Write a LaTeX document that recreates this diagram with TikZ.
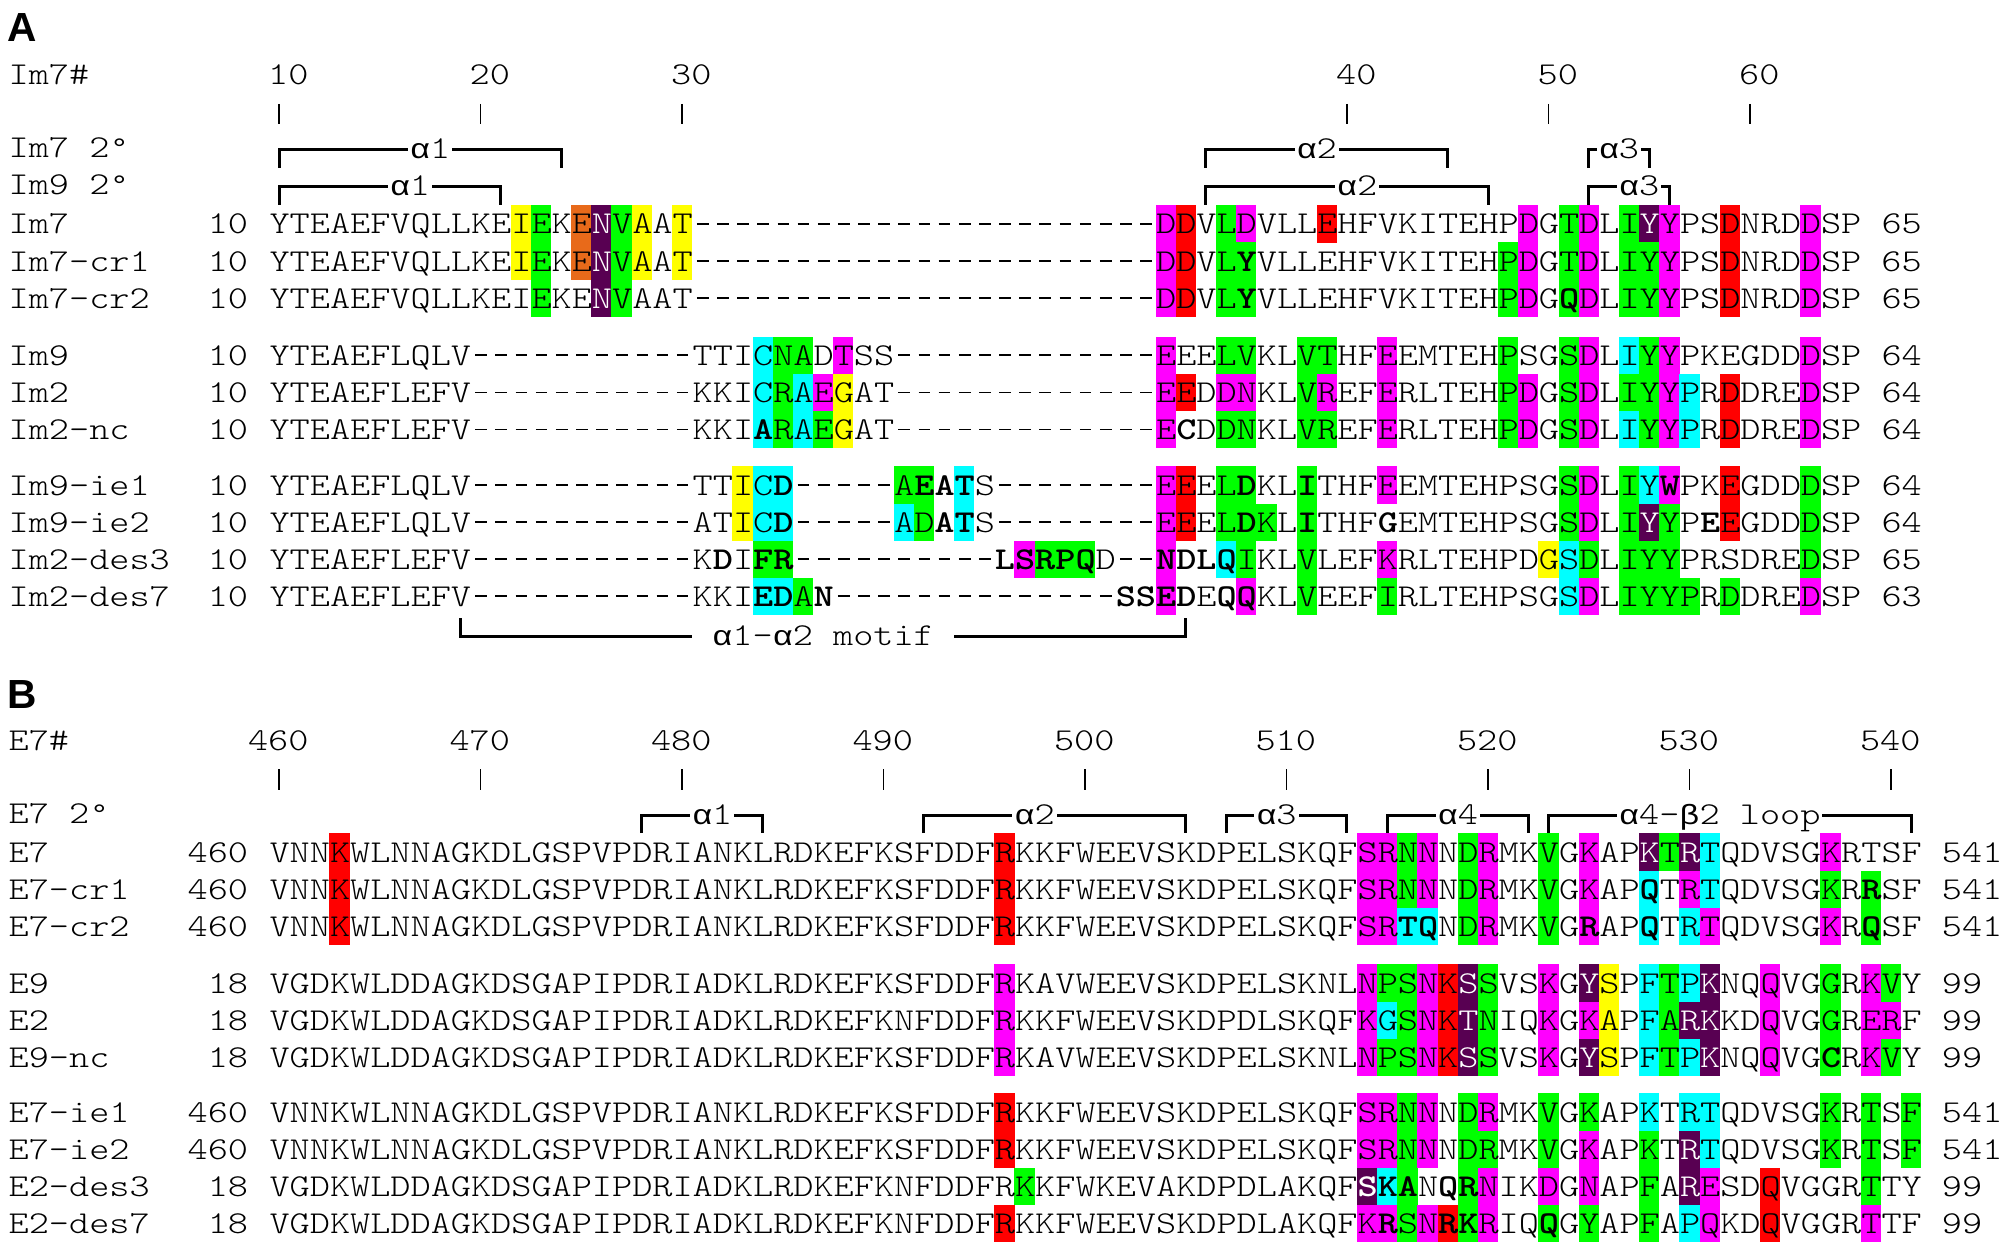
\documentclass[tikz,border=0pt]{standalone}
\usepackage{fontspec}
\usepackage{graphicx}
\setsansfont{Liberation Sans}
\newfontfamily\seqfont{lmmonolt10-regular}[Extension=.otf, BoldFont=lmmonolt10-bold, WordSpace={1,0,0}]
\newfontfamily\grk{Liberation Mono}

\definecolor{hlmag}{RGB}{255,0,255}
\definecolor{hlgrn}{RGB}{0,255,0}
\definecolor{hlcya}{RGB}{0,255,255}
\definecolor{hlyel}{RGB}{255,255,0}
\definecolor{hlred}{RGB}{255,0,0}
\definecolor{hlora}{RGB}{232,106,26}
\definecolor{hlpur}{RGB}{88,0,82}

\newcommand\bd[1]{\textbf{#1}}
\newcommand\wt[1]{\textcolor{white}{#1}}
\newcommand\dsh{\makebox[6.045pt]{\rule[3.4pt]{3.5pt}{0.6pt}}}
\newcommand\gap[1]{\foreach \g in {1,...,#1}{\dsh}}
\newcommand\seqtxt[1]{\scalebox{1}[0.83]{#1}}
\newcommand\al{{\grk\fontsize{10.075}{12}\selectfont α}}
\newcommand\be{{\grk\fontsize{10.075}{12}\selectfont β}}
\newcommand\dg{{\grk\fontsize{10.075}{12}\selectfont °}}

\begin{document}
\begin{tikzpicture}[x=0.3pt, y=-0.3pt,
  seq/.style={font=\seqfont\fontsize{11.514}{13}\selectfont, inner sep=0pt},
  brk/.style={line width=0.9pt},
  brklab/.style={seq, fill=white, inner xsep=0.6pt, inner ysep=1pt, anchor=base},
  panel/.style={font=\sffamily\bfseries\fontsize{12.2}{14}\selectfont, inner sep=0pt, anchor=base west}]

\fill[white] (0,0) rectangle (2007,1252);

% ---------------- panel A: immunity proteins
\node[panel] (pA) at (7,42) {A};
\node[seq, anchor=base west] (im7pos) at (8,85) {\seqtxt{Im7\#}};
\foreach \c/\t in {0/10,10/20,20/30,53/40,63/50,73/60} {
  \node[seq, anchor=base east] (tA\t) at ({309.2+20.15*\c},85) {\seqtxt{\t}};
  \draw[thin] ({279+20.15*\c},104) -- ({279+20.15*\c},124);
}
\node[seq, anchor=base west] (im7ss) at (8,158) {\seqtxt{Im7 2\dg}};
\node[seq, anchor=base west] (im9ss) at (8,195) {\seqtxt{Im9 2\dg}};
% secondary structure
\foreach \l/\r/\m/\y/\t/\n in {0/14/7.5/150/\al1/a7h1, 46/58/51.5/150/\al2/a7h2, 65/68/66.5/150/\al3/a7h3,
    0/11/6.5/187/\al1/a9h1, 46/60/53.5/187/\al2/a9h2, 65/69/67.5/187/\al3/a9h3} {
  \draw[brk] ({279+20.15*\l},\y+18) |- ({279+20.15*\r},\y) -- ++(0,18);
  \node[brklab] (\n) at ({279+20.15*\m},\y+9) {\seqtxt{\t}};
}
% aligned sequences, highlights first
\foreach \y/\nm/\st/\sq/\hls in {
  224/Im7/10/{YTEAEFVQLLKEIEKE\wt{N}VAAT\gap{23}DDVLDVLLEHFVKITEHPDGTDLI\wt{Y}YPSDNRDDSP 65}/{12/hlyel,13/hlgrn,15/hlora,16/hlpur,17/hlgrn,18/hlyel,20/hlyel,44/hlmag,45/hlred,47/hlgrn,48/hlmag,52/hlred,62/hlmag,64/hlgrn,65/hlmag,67/hlgrn,68/hlpur,69/hlmag,72/hlred,76/hlmag},
  261.1/Im7-cr1/10/{YTEAEFVQLLKEIEKE\wt{N}VAAT\gap{23}DDVL\bd{Y}VLLEHFVKITEHPDGTDLIYYPSDNRDDSP 65}/{12/hlyel,13/hlgrn,15/hlora,16/hlpur,17/hlgrn,18/hlyel,20/hlyel,44/hlmag,45/hlred,47/hlgrn,48/hlgrn,61/hlgrn,62/hlmag,64/hlgrn,65/hlmag,67/hlgrn,68/hlgrn,69/hlmag,72/hlred,76/hlmag},
  298.2/Im7-cr2/10/{YTEAEFVQLLKEIEKE\wt{N}VAAT\gap{23}DDVL\bd{Y}VLLEHFVKITEHPDG\bd{Q}DLIYYPSDNRDDSP 65}/{13/hlgrn,16/hlpur,17/hlgrn,44/hlmag,45/hlred,47/hlgrn,48/hlgrn,61/hlgrn,62/hlmag,64/hlgrn,65/hlmag,67/hlgrn,68/hlgrn,69/hlmag,72/hlred,76/hlmag},
  355.5/Im9/10/{YTEAEFLQLV\gap{11}TTICNADTSS\gap{13}EEELVKLVTHFEEMTEHPSGSDLIYYPKEGDDDSP 64}/{24/hlcya,25/hlgrn,26/hlgrn,28/hlmag,44/hlmag,47/hlgrn,48/hlgrn,51/hlgrn,52/hlgrn,55/hlmag,61/hlgrn,64/hlgrn,65/hlmag,67/hlcya,68/hlgrn,69/hlmag,76/hlmag},
  392.6/Im2/10/{YTEAEFLEFV\gap{11}KKICRAEGAT\gap{13}EEDDNKLVREFERLTEHPDGSDLIYYPRDDREDSP 64}/{24/hlcya,25/hlgrn,26/hlcya,27/hlmag,28/hlyel,44/hlmag,45/hlred,47/hlmag,48/hlmag,51/hlgrn,52/hlmag,55/hlmag,61/hlgrn,62/hlmag,64/hlgrn,65/hlmag,67/hlgrn,68/hlgrn,69/hlmag,70/hlcya,72/hlred,76/hlmag},
  429.7/Im2-nc/10/{YTEAEFLEFV\gap{11}KKI\bd{A}RAEGAT\gap{13}E\bd{C}DDNKLVREFERLTEHPDGSDLIYYPRDDREDSP 64}/{24/hlcya,25/hlgrn,26/hlcya,27/hlgrn,28/hlyel,44/hlmag,47/hlgrn,48/hlgrn,51/hlgrn,52/hlgrn,55/hlmag,61/hlgrn,62/hlmag,64/hlgrn,65/hlmag,67/hlcya,68/hlgrn,69/hlmag,70/hlcya,72/hlred,76/hlmag},
  485/Im9-ie1/10/{YTEAEFLQLV\gap{11}TTIC\bd{D}\gap{5}A\bd{EAT}S\gap{8}EEEL\bd{D}KL\bd{I}THFEEMTEHPSGSDLIY\bd{W}PKEGDDDSP 64}/{23/hlyel,24/hlcya,25/hlcya,31/hlgrn,32/hlgrn,34/hlcya,44/hlmag,45/hlred,47/hlgrn,48/hlgrn,51/hlgrn,55/hlmag,64/hlgrn,65/hlmag,67/hlgrn,68/hlcya,69/hlmag,72/hlred,76/hlgrn},
  522.1/Im9-ie2/10/{YTEAEFLQLV\gap{11}ATIC\bd{D}\gap{5}AD\bd{AT}S\gap{8}EEEL\bd{D}KL\bd{I}THF\bd{G}EMTEHPSGSDLI\wt{Y}YP\bd{E}EGDDDSP 64}/{23/hlyel,24/hlcya,25/hlcya,31/hlcya,32/hlgrn,34/hlcya,44/hlmag,45/hlred,47/hlgrn,48/hlgrn,49/hlgrn,51/hlgrn,64/hlgrn,65/hlmag,67/hlgrn,68/hlpur,69/hlgrn,72/hlred,76/hlgrn},
  559.2/Im2-des3/10/{YTEAEFLEFV\gap{11}K\bd{D}I\bd{FR}\gap{10}\bd{LSRPQ}D\gap{2}\bd{NDLQ}IKLVLEFKRLTEHPDGSDLIYYPRSDREDSP 65}/{24/hlgrn,25/hlgrn,37/hlmag,38/hlgrn,39/hlgrn,40/hlgrn,44/hlmag,47/hlcya,48/hlgrn,51/hlgrn,55/hlmag,63/hlyel,64/hlcya,65/hlgrn,67/hlgrn,68/hlgrn,69/hlgrn,76/hlgrn},
  596.3/Im2-des7/10/{YTEAEFLEFV\gap{11}KKI\bd{ED}A\bd{N}\gap{14}\bd{SSED}E\bd{QQ}KLVEEFIRLTEHPSGSDLIYYPRDDREDSP 63}/{24/hlcya,25/hlcya,26/hlgrn,44/hlmag,48/hlmag,51/hlgrn,55/hlgrn,64/hlcya,65/hlmag,67/hlgrn,68/hlgrn,69/hlgrn,70/hlgrn,72/hlgrn,76/hlmag}} {
  \foreach \c/\k in \hls
    \fill[\k] ({268.9+20.15*\c},\y-18.6) rectangle ++(20.25,37.3);
  \node[seq, anchor=base west] (\nm) at (8,\y+10) {\seqtxt{\nm}};
  \node[seq, anchor=base east] (\nm-st) at (248.75,\y+10) {\seqtxt{\st}};
  \node[seq, anchor=base west] (\nm-seq) at (268.9,\y+10) {\seqtxt{\sq}};
}
% alpha1-alpha2 motif
\draw[brk] (460.35,618) |- (1185.75,636) -- ++(0,-18);
\node[brklab, inner xsep=6pt] (motif) at (823.05,645) {\seqtxt{\al1-\al2 motif}};

% ---------------- panel B: DNase domains
\node[panel] (pB) at (7,708) {B};
\node[seq, anchor=base west] (e7pos) at (8,750) {\seqtxt{E7\#}};
\foreach \c in {0,10,...,80} {
  \pgfmathtruncatemacro\t{460+\c}
  \node[seq, anchor=base east] (tB\t) at ({309.2+20.15*\c},750) {\seqtxt{\t}};
  \draw[thin] ({279+20.15*\c},769) -- ({279+20.15*\c},790);
}
\node[seq, anchor=base west] (e7ss) at (8,823) {\seqtxt{E7 2\dg}};
\foreach \l/\r/\m/\t/\n in {18/24/21.5/\al1/b7h1, 32/45/37.5/\al2/b7h2, 47/53/49.5/\al3/b7h3,
    55/62/58.5/\al4/b7h4, 63/81/71.5/\al4-\be2 loop/b7h5} {
  \draw[brk] ({279+20.15*\l},833) |- ({279+20.15*\r},815) -- ++(0,18);
  \node[brklab] (\n) at ({279+20.15*\m},824) {\seqtxt{\t}};
}
\foreach \y/\nm/\st/\sq/\hls in {
  852/E7/460/{VNNKWLNNAGKDLGSPVPDRIANKLRDKEFKSFDDFRKKFWEEVSKDPELSKQFSRNNNDRMKVGKAP\wt{K}T\wt{R}TQDVSGKRTSF 541}/{3/hlred,36/hlred,54/hlmag,55/hlmag,56/hlgrn,57/hlmag,59/hlgrn,60/hlmag,63/hlgrn,65/hlmag,68/hlpur,69/hlgrn,70/hlpur,71/hlcya,77/hlmag},
  889.2/E7-cr1/460/{VNNKWLNNAGKDLGSPVPDRIANKLRDKEFKSFDDFRKKFWEEVSKDPELSKQFSRNNNDRMKVGKAP\bd{Q}TRTQDVSGKR\bd{R}SF 541}/{3/hlred,36/hlred,54/hlmag,55/hlmag,56/hlgrn,57/hlmag,59/hlgrn,60/hlmag,63/hlgrn,65/hlmag,68/hlcya,70/hlmag,71/hlcya,77/hlgrn,79/hlgrn},
  926.4/E7-cr2/460/{VNNKWLNNAGKDLGSPVPDRIANKLRDKEFKSFDDFRKKFWEEVSKDPELSKQFSR\bd{TQ}NDRMKVG\bd{R}AP\bd{Q}TRTQDVSGKR\bd{Q}SF 541}/{3/hlred,36/hlred,54/hlmag,55/hlmag,56/hlcya,57/hlcya,59/hlgrn,60/hlmag,63/hlgrn,65/hlmag,68/hlcya,70/hlcya,71/hlmag,77/hlmag,79/hlgrn},
  983/E9/18/{VGDKWLDDAGKDSGAPIPDRIADKLRDKEFKSFDDFRKAVWEEVSKDPELSKNLNPSNK\wt{S}SVSKG\wt{Y}SPFTP\wt{K}NQQVGGRKVY 99}/{36/hlmag,54/hlmag,55/hlgrn,56/hlgrn,57/hlmag,58/hlred,59/hlpur,60/hlgrn,63/hlmag,65/hlpur,66/hlyel,68/hlcya,69/hlgrn,70/hlcya,71/hlpur,74/hlmag,77/hlgrn,79/hlmag,80/hlgrn},
  1020.2/E2/18/{VGDKWLDDAGKDSGAPIPDRIADKLRDKEFKNFDDFRKKFWEEVSKDPDLSKQFKGSNK\wt{T}NIQKGKAPFA\wt{RK}KDQVGGRERF 99}/{36/hlmag,54/hlmag,55/hlcya,56/hlgrn,57/hlmag,58/hlred,59/hlpur,60/hlgrn,63/hlmag,65/hlmag,66/hlyel,68/hlcya,69/hlgrn,70/hlpur,71/hlpur,74/hlmag,77/hlgrn,79/hlmag,80/hlmag},
  1057.4/E9-nc/18/{VGDKWLDDAGKDSGAPIPDRIADKLRDKEFKSFDDFRKAVWEEVSKDPELSKNLNPSNK\wt{S}SVSKG\wt{Y}SPFTP\wt{K}NQQVG\bd{C}RKVY 99}/{36/hlmag,54/hlmag,55/hlgrn,56/hlgrn,57/hlmag,58/hlred,59/hlpur,60/hlgrn,63/hlmag,65/hlpur,66/hlyel,68/hlcya,69/hlgrn,70/hlcya,71/hlpur,74/hlmag,77/hlgrn,79/hlmag,80/hlgrn},
  1112/E7-ie1/460/{VNNKWLNNAGKDLGSPVPDRIANKLRDKEFKSFDDFRKKFWEEVSKDPELSKQFSRNNNDRMKVGKAPKTRTQDVSGKRTSF 541}/{36/hlred,54/hlmag,55/hlmag,56/hlgrn,57/hlmag,59/hlgrn,60/hlmag,63/hlgrn,65/hlgrn,68/hlcya,70/hlcya,71/hlcya,77/hlgrn,79/hlgrn,81/hlgrn},
  1149.2/E7-ie2/460/{VNNKWLNNAGKDLGSPVPDRIANKLRDKEFKSFDDFRKKFWEEVSKDPELSKQFSRNNNDRMKVGKAPKT\wt{R}TQDVSGKRTSF 541}/{36/hlred,54/hlmag,55/hlmag,56/hlgrn,57/hlmag,59/hlgrn,60/hlgrn,63/hlgrn,65/hlmag,68/hlgrn,70/hlpur,71/hlcya,77/hlgrn,79/hlgrn,81/hlgrn},
  1186.4/E2-des3/18/{VGDKWLDDAGKDSGAPIPDRIADKLRDKEFKNFDDFRKKFWKEVAKDPDLAKQF\bd{\wt{S}KA}N\bd{QR}NIKDGNAPFA\wt{R}ESDQVGGRTTY 99}/{37/hlgrn,54/hlpur,55/hlcya,56/hlgrn,59/hlgrn,60/hlmag,63/hlmag,65/hlmag,68/hlgrn,70/hlpur,71/hlmag,74/hlred,79/hlgrn},
  1223.6/E2-des7/18/{VGDKWLDDAGKDSGAPIPDRIADKLRDKEFKNFDDFRKKFWEEVSKDPDLAKQFK\bd{R}SN\bd{RK}RIQ\bd{Q}GYAPFAPQKDQVGGRTTF 99}/{36/hlred,54/hlmag,55/hlmag,56/hlgrn,57/hlmag,58/hlred,59/hlgrn,60/hlmag,63/hlgrn,65/hlgrn,68/hlgrn,70/hlcya,71/hlmag,74/hlred,79/hlmag}} {
  \foreach \c/\k in \hls
    \fill[\k] ({268.9+20.15*\c},\y-18.6) rectangle ++(20.25,37.3);
  \node[seq, anchor=base west] (\nm) at (8,\y+10) {\seqtxt{\nm}};
  \node[seq, anchor=base east] (\nm-st) at (248.75,\y+10) {\seqtxt{\st}};
  \node[seq, anchor=base west] (\nm-seq) at (268.9,\y+10) {\seqtxt{\sq}};
}
\end{tikzpicture}
\end{document}
